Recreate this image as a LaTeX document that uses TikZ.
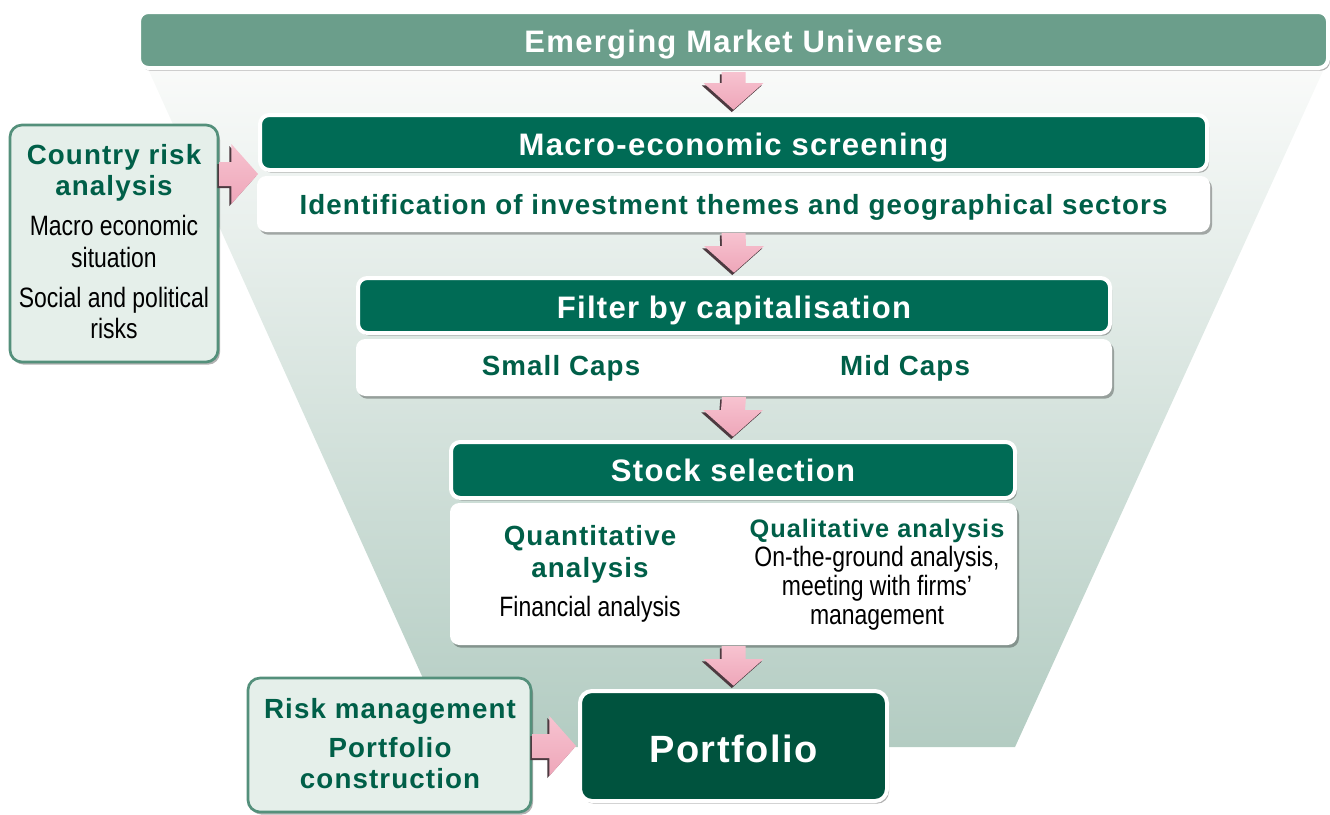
\documentclass[tikz,border=0pt]{standalone}
\usepackage{fontspec}
\setmainfont{Liberation Sans}
\newfontfamily\gfont{Liberation Sans}[LetterSpace=4]
\newfontfamily\cfont{Liberation Sans}[FakeStretch=0.82]
\usetikzlibrary{calc,shadows}
\definecolor{topbar}{HTML}{6B9E8B}
\definecolor{darkbar}{HTML}{006B55}
\definecolor{portf}{HTML}{00533E}
\definecolor{gtext}{HTML}{005F48}
\definecolor{sidefill}{HTML}{E5EFEA}
\definecolor{sideline}{HTML}{54907B}
\definecolor{pinkA}{HTML}{F7C3D0}
\definecolor{pinkB}{HTML}{EEA6B9}
\definecolor{arrdark}{HTML}{4D3A40}
\definecolor{funtop}{HTML}{FAFBFA}
\definecolor{funbot}{HTML}{B3CCC2}
\tikzset{
 shad/.style={drop shadow={shadow xshift=1.5pt, shadow yshift=-2pt, opacity=0.3, fill=black}},
 barbox/.style={shape=rectangle, rounded corners=7pt, draw=white, line width=3pt, fill=darkbar, shad, inner sep=0pt},
 whitebox/.style={shape=rectangle, rounded corners=7pt, fill=white, shad, inner sep=0pt},
 sidebox/.style={shape=rectangle, rounded corners=9pt, draw=sideline, line width=2pt, fill=sidefill, shad, inner sep=0pt},
 bartxt/.style={anchor=base, inner sep=0pt, text=white, font=\gfont\fontsize{23.3}{28}\selectfont\bfseries},
 gtxt/.style={anchor=base, inner sep=0pt, text=gtext, font=\gfont\fontsize{20.8}{25}\selectfont\bfseries},
 btxt/.style={anchor=base, inner sep=0pt, text=black, font=\cfont\fontsize{21}{25}\selectfont},
 arrsh/.style={fill=arrdark},
 arrpink/.style={top color=pinkA, bottom color=pinkB, draw=none},
}
\newcommand\dnarrowbody[4]{\path[#4] ($(#1)+(-9pt,0)+(#3)$) -- ($(#1)+(9pt,0)+(#3)$) -- ($(#2)+(9pt,20pt)+(#3)$) -- ($(#2)+(22.5pt,20pt)+(#3)$) -- ($(#2)+(#3)$) -- ($(#2)+(-22.5pt,20pt)+(#3)$) -- ($(#2)+(-9pt,20pt)+(#3)$) -- cycle;}
\newcommand\dnarrow[2]{\dnarrowbody{#1}{#2}{-1.3pt,-1.8pt}{arrsh}\dnarrowbody{#1}{#2}{0pt,0pt}{arrpink}}
\newcommand\rtarrowbody[4]{\path[#4] ($(#1)+(0,9pt)+(#3)$) -- ($(#2)+(-20pt,9pt)+(#3)$) -- ($(#2)+(-20pt,22.5pt)+(#3)$) -- ($(#2)+(#3)$) -- ($(#2)+(-20pt,-22.5pt)+(#3)$) -- ($(#2)+(-20pt,-9pt)+(#3)$) -- ($(#1)+(0,-9pt)+(#3)$) -- cycle;}
\newcommand\rtarrow[2]{\rtarrowbody{#1}{#2}{-1.5pt,-1.5pt}{arrsh}\rtarrowbody{#1}{#2}{0pt,0pt}{arrpink}}
\begin{document}
\begin{tikzpicture}[x=0.75pt,y=-0.75pt]
\useasboundingbox (0,0) rectangle (1330,814);
% funnel
\shade[top color=funtop, bottom color=funbot] (144,60) -- (1328,60) -- (1015,747) -- (454,747) -- cycle;
% boxes
\node[barbox, fill=topbar, minimum width=1189*0.75pt, minimum height=56*0.75pt] (univ) at (733.5,40) {};
\node[barbox, minimum width=947*0.75pt, minimum height=55*0.75pt] (macro) at (733.5,142.5) {};
\node[whitebox, minimum width=953*0.75pt, minimum height=56*0.75pt] (idbox) at (733.5,204) {};
\node[barbox, minimum width=752*0.75pt, minimum height=55*0.75pt] (filter) at (734,305.5) {};
\node[whitebox, minimum width=756*0.75pt, minimum height=57*0.75pt] (caps) at (734,367.5) {};
\node[barbox, minimum width=564*0.75pt, minimum height=56*0.75pt] (stock) at (733,470) {};
\node[whitebox, minimum width=567*0.75pt, minimum height=142*0.75pt] (anal) at (733.5,574) {};
\node[barbox, fill=portf, rounded corners=9pt, minimum width=307*0.75pt, minimum height=110*0.75pt] (portf) at (733.5,746) {};
\node[sidebox, minimum width=208*0.75pt, minimum height=237*0.75pt] (country) at (114,243.5) {};
\node[sidebox, minimum width=283*0.75pt, minimum height=134*0.75pt] (risk) at (389.5,745) {};
% texts
\node[bartxt] (tuniv) at (733.5,52) {Emerging Market Universe};
\node[bartxt] (tmacro) at (733.5,155) {Macro-economic screening};
\node[gtxt] (tid) at (733.5,214) {Identification of investment themes and geographical sectors};
\node[bartxt] (tfilter) at (734,318) {Filter by capitalisation};
\node[gtxt] (tsmall) at (561,375) {Small Caps};
\node[gtxt] (tmid) at (905,375) {Mid Caps};
\node[bartxt] (tstock) at (733,481) {Stock selection};
\node[gtxt] (tquant1) at (590,545) {Quantitative};
\node[gtxt] (tquant2) at (590,577) {analysis};
\node[btxt] (tfin) at (590,616) {Financial analysis};
\node[gtxt, font=\gfont\fontsize{19}{23}\selectfont\bfseries] (tqual) at (877,537) {Qualitative analysis};
\node[btxt] (tqual1) at (877,566) {On-the-ground analysis,};
\node[btxt] (tqual2) at (877,595) {meeting with firms’};
\node[btxt] (tqual3) at (877,624) {management};
\node[bartxt, font=\gfont\fontsize{28.5}{34}\selectfont\bfseries] (tport) at (733.5,762) {Portfolio};
\node[gtxt] (tc1) at (114,164) {Country risk};
\node[gtxt] (tc2) at (114,195) {analysis};
\node[btxt] (tc3) at (114,235) {Macro economic};
\node[btxt] (tc4) at (114,267) {situation};
\node[btxt] (tc5) at (114,307) {Social and political};
\node[btxt] (tc6) at (114,338) {risks};
\node[gtxt] (tr1) at (390,718) {Risk management};
\node[gtxt] (tr2) at (390,757) {Portfolio};
\node[gtxt] (tr3) at (390,788) {construction};
% arrows
\coordinate (a1s) at ([yshift=-1.5pt]univ.south);
\coordinate (a1t) at ([yshift=2.5pt]macro.north);
\coordinate (a2s) at ([yshift=-0.5pt]idbox.south);
\coordinate (a2t) at ([yshift=2.5pt]filter.north);
\coordinate (a3s) at ([yshift=-0.5pt]caps.south);
\coordinate (a3t) at ([yshift=2.5pt]stock.north);
\coordinate (a4s) at ([yshift=-0.5pt]anal.south);
\coordinate (a4t) at ([yshift=2.5pt]portf.north);
\coordinate (c1s) at ([yshift=-1.5pt]country.east |- macro.south);
\coordinate (c1t) at ([yshift=-1.5pt]macro.south west);
\coordinate (r1s) at (risk.east |- portf.west);
\coordinate (r1t) at ([xshift=-1.5pt]portf.west);
\dnarrow{a1s}{a1t}
\dnarrow{a2s}{a2t}
\dnarrow{a3s}{a3t}
\dnarrow{a4s}{a4t}
\rtarrow{c1s}{c1t}
\rtarrow{r1s}{r1t}
\end{tikzpicture}
\end{document}
